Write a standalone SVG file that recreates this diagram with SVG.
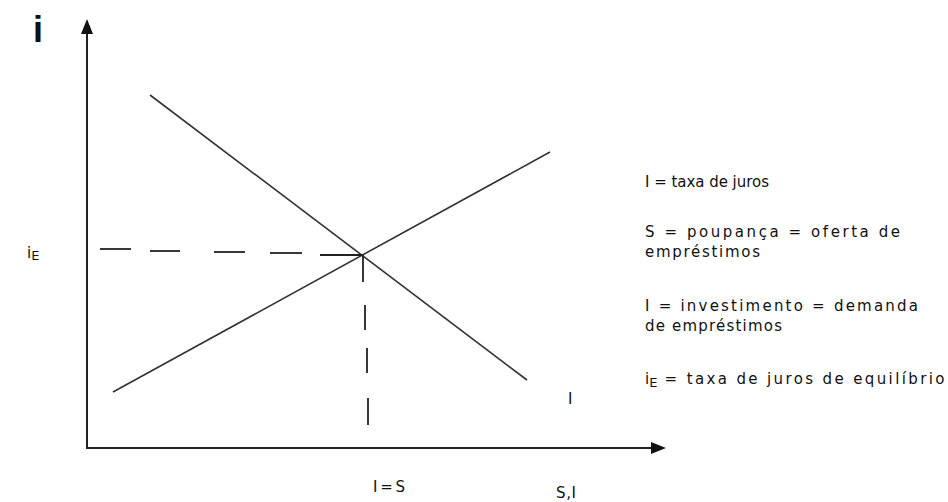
<svg xmlns="http://www.w3.org/2000/svg" width="948" height="502" viewBox="0 0 948 502">
<style>
.t{font-family:"DejaVu Sans","Liberation Sans",Arial,sans-serif;font-size:15px;fill:#111}
.ax{stroke:#222;stroke-width:2;fill:none}
.ln{stroke:#333;stroke-width:1.6;fill:none}
.ds{stroke:#222;stroke-width:1.8;fill:none}
.ah{fill:#111}
</style>
<rect width="948" height="502" fill="#fff"/>
<g id="axes">
<line class="ax" x1="87" y1="449" x2="87" y2="32"/>
<polygon class="ah" points="87,19 81,34 93,34"/>
<line class="ax" x1="86" y1="448" x2="652" y2="448"/>
<polygon class="ah" points="666,448 651,442 651,454"/>
</g>
<g id="connectors">
<line id="supply" class="ln" x1="113" y1="392" x2="550" y2="152"/>
<line id="demand" class="ln" x1="150" y1="95" x2="527" y2="380"/>
<g id="dash-h">
<line class="ds" x1="100" y1="249" x2="131" y2="249"/>
<line class="ds" x1="150" y1="251" x2="180" y2="251"/>
<line class="ds" x1="214" y1="252" x2="245" y2="252"/>
<line class="ds" x1="270" y1="253" x2="302" y2="253"/>
<line class="ds" x1="320" y1="255" x2="362" y2="255"/>
</g>
<g id="dash-v">
<line class="ds" x1="363" y1="255" x2="363" y2="282"/>
<line class="ds" x1="365" y1="305" x2="365" y2="330"/>
<line class="ds" x1="367" y1="348" x2="367" y2="373"/>
<line class="ds" x1="368" y1="398" x2="368" y2="425"/>
</g>
</g>
<g id="axis-labels">
<text x="33" y="42" style="font-family:'Liberation Sans',Arial,sans-serif;font-size:36px;font-weight:bold;fill:#111">i</text>
<text class="t" x="27" y="258">i<tspan font-size="13" dy="2">E</tspan></text>
<text class="t" x="373" y="492" textLength="32" lengthAdjust="spacing">I = S</text>
<text class="t" x="556" y="498" textLength="20" lengthAdjust="spacing">S,I</text>
<text class="t" x="568" y="404">I</text>
</g>
<g id="legend">
<text class="t" x="645" y="187" textLength="124" lengthAdjust="spacing">I = taxa de juros</text>
<text class="t" x="645" y="237" textLength="255" lengthAdjust="spacing">S = poupança = oferta de</text>
<text class="t" x="645" y="257" textLength="115" lengthAdjust="spacing">empréstimos</text>
<text class="t" x="645" y="311" textLength="273" lengthAdjust="spacing">I = investimento = demanda</text>
<text class="t" x="645" y="331" textLength="137" lengthAdjust="spacing">de empréstimos</text>
<text class="t" x="645" y="384">i<tspan font-size="13" dy="3">E</tspan><tspan dy="-3" textLength="287" lengthAdjust="spacing"> = taxa de juros de equilíbrio</tspan></text>
</g>
</svg>
